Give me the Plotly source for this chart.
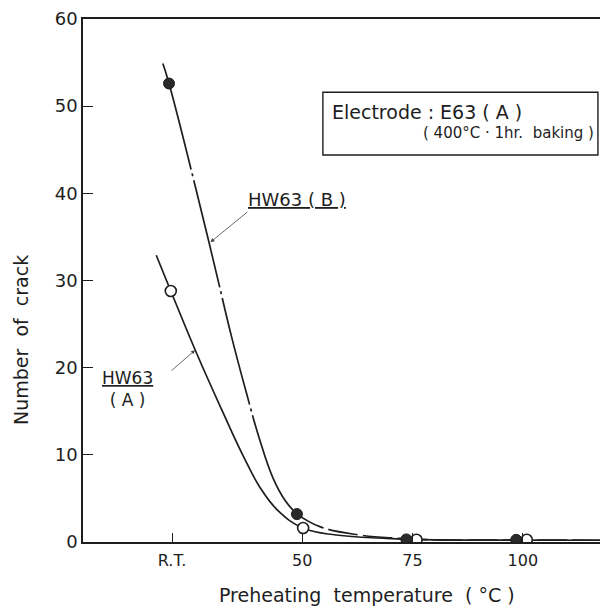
import plotly.graph_objects as go

# ---- data ----
tick_vals = [20.5, 50, 75, 100]
tick_text = ["R.T.", "50", "75", "100"]
y_ticks = [0, 10, 20, 30, 40, 50, 60]

# measured points
b_pts_x = [19.8, 48.8, 73.6, 98.5]
b_pts_y = [52.6, 3.2, 0.3, 0.25]
a_pts_x = [20.2, 50.2, 75.9, 100.9]
a_pts_y = [28.8, 1.6, 0.25, 0.25]

# fitted curves
b_curve_upper_x = [18.4, 19.8, 28.9, 34.0, 37.4, 40.2, 43.4, 46.2, 48.8]
b_curve_upper_y = [54.9, 52.6, 34.3, 23.5, 17.0, 12.0, 7.3, 4.7, 3.2]
b_curve_lower_x = [48.8, 54.0, 63.0, 72.0, 80.0, 100.0, 117.5]
b_curve_lower_y = [3.2, 1.76, 0.80, 0.42, 0.25, 0.22, 0.2]

a_curve_x = [16.9, 20.2, 26.1, 32.0, 36.5, 40.5, 44.5, 50.2, 57.7, 69.0, 80.0, 100.0, 117.5]
a_curve_y = [32.9, 28.8, 21.6, 14.9, 10.0, 6.2, 3.6, 1.6, 0.80, 0.42, 0.25, 0.22, 0.2]

INK = "#1e1e1e"
FONT = "DejaVu Sans"

fig = go.Figure()

fig.add_trace(go.Scatter(x=a_curve_x, y=a_curve_y, mode="lines",
                         line=dict(color=INK, width=1.7, shape="spline", smoothing=1.2),
                         showlegend=False, hoverinfo="skip"))
fig.add_trace(go.Scatter(x=b_curve_upper_x, y=b_curve_upper_y, mode="lines",
                         line=dict(color=INK, width=1.7, shape="spline", smoothing=1.2,
                                   dash="110px,4px,3px,4px"),
                         showlegend=False, hoverinfo="skip"))
fig.add_trace(go.Scatter(x=b_curve_lower_x, y=b_curve_lower_y, mode="lines",
                         line=dict(color=INK, width=1.7, shape="spline", smoothing=1.2,
                                   dash="30px,5px"),
                         showlegend=False, hoverinfo="skip"))

fig.add_trace(go.Scatter(x=b_pts_x, y=b_pts_y, mode="markers",
                         marker=dict(symbol="circle", size=11, color="#2a2a2a",
                                     line=dict(color=INK, width=1)),
                         name="HW63(B)", showlegend=False))
fig.add_trace(go.Scatter(x=a_pts_x, y=a_pts_y, mode="markers",
                         marker=dict(symbol="circle", size=11, color="white",
                                     line=dict(color=INK, width=1.6)),
                         name="HW63(A)", showlegend=False))

annotations = [
    # series labels
    dict(x=48.8, y=39.3, xref="x", yref="y", text="<u>HW63 ( B )</u>", showarrow=False,
         font=dict(family=FONT, size=18, color=INK)),
    dict(x=10.4, y=17.6, xref="x", yref="y", text="<u>HW63</u><br>( A )", showarrow=False,
         font=dict(family=FONT, size=17, color=INK)),
    # leader arrows
    dict(x=29.2, y=34.4, xref="x", yref="y", ax=37.9, ay=38.0, axref="x", ayref="y",
         text="", showarrow=True, arrowhead=2, arrowsize=1, arrowwidth=0.8, arrowcolor="#444"),
    dict(x=25.7, y=22.0, xref="x", yref="y", ax=20.0, ay=19.5, axref="x", ayref="y",
         text="", showarrow=True, arrowhead=2, arrowsize=1, arrowwidth=0.8, arrowcolor="#444"),
    # box text
    dict(x=0.478, y=0.823, xref="paper", yref="paper", xanchor="left", yanchor="middle",
         text="Electrode : E63 ( A )", showarrow=False,
         font=dict(family=FONT, size=19, color=INK)),
    dict(x=0.993, y=0.782, xref="paper", yref="paper", xanchor="right", yanchor="middle",
         text="( 400°C · 1hr.  baking )", showarrow=False,
         font=dict(family=FONT, size=15, color=INK)),
]

# axis titles positioned by pixel centre, converted to paper coordinates
title_specs = [
    dict(px=21, py=340, text="Number  of  crack", angle=-90),
    dict(px=367, py=595, text="Preheating  temperature  ( °C )", angle=0),
]
for t in title_specs:
    annotations.append(dict(x=(t["px"] - 83) / 517, y=(542 - t["py"]) / 523,
                            xref="paper", yref="paper", xanchor="center", yanchor="middle",
                            text=t["text"], showarrow=False,
                            textangle=t["angle"], font=dict(family=FONT, size=19, color=INK)))

fig.update_layout(
    width=600, height=608,
    margin=dict(l=83, r=0, t=19, b=66),
    paper_bgcolor="white", plot_bgcolor="white",
    font=dict(family=FONT, size=15, color=INK),
    xaxis=dict(range=[0.3, 117.5], tickvals=tick_vals, ticktext=tick_text,
               ticks="inside", ticklen=9, tickwidth=1.4, tickcolor=INK,
               showline=True, linecolor=INK, linewidth=1.6, mirror=True,
               showgrid=False, zeroline=False, ticklabelstandoff=3,
               tickfont=dict(family=FONT, size=16, color=INK)),
    yaxis=dict(range=[0, 60], tickvals=y_ticks,
               ticks="inside", ticklen=10, tickwidth=1.4, tickcolor=INK,
               showline=True, linecolor=INK, linewidth=1.6,
               showgrid=False, zeroline=False,
               tickfont=dict(family=FONT, size=18, color=INK)),
    showlegend=False,
    annotations=annotations,
)

fig.add_shape(type="rect", xref="paper", yref="paper",
              x0=0.464, x1=0.996, y0=0.740, y1=0.860,
              line=dict(color=INK, width=1.4), fillcolor="rgba(0,0,0,0)")

fig.write_html("out.html")
